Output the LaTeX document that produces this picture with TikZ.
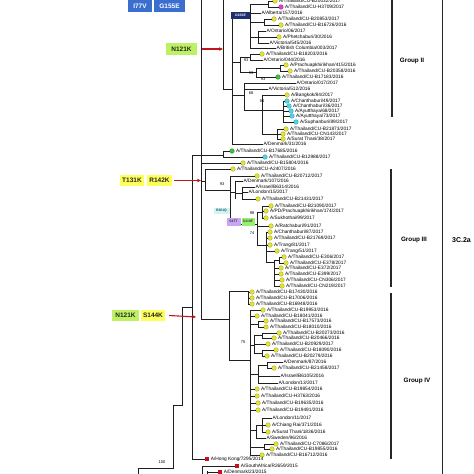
\documentclass[tikz,border=0pt]{standalone}
\usepackage{fontspec}
\setmainfont{Liberation Sans}
\usetikzlibrary{arrows.meta}
\definecolor{yfill}{HTML}{E4E436}
\definecolor{ydraw}{HTML}{9A9A22}
\definecolor{cfill}{HTML}{4ED6E6}
\definecolor{cdraw}{HTML}{2A96A8}
\definecolor{gfill}{HTML}{3CC43C}
\definecolor{gdraw}{HTML}{1E7A1E}
\definecolor{mfill}{HTML}{E040C8}
\definecolor{mdraw}{HTML}{9A2088}
\definecolor{rfill}{HTML}{C8101E}
\definecolor{arrred}{HTML}{C0141E}
\definecolor{mutblue}{HTML}{3A6FD0}
\definecolor{mutgreen}{HTML}{BDF062}
\definecolor{mutyel}{HTML}{FFFF5C}
\definecolor{navybox}{HTML}{1C2F6E}
\definecolor{lavbox}{HTML}{C8A6F2}
\definecolor{lgreenbox}{HTML}{98F070}
\definecolor{lcyanbox}{HTML}{D2F4F4}
\tikzset{
 tl/.style={line width=0.7pt, draw=black!88},
 lbl/.style={anchor=west, inner sep=0.3pt, font=\fontsize{4.8}{5}\selectfont},
 bsv/.style={inner sep=0pt, font=\fontsize{4}{4}\selectfont},
 mk/.style={circle, inner sep=0pt, minimum size=4.6pt, line width=0.3pt},
 ymk/.style={mk, fill=yfill, draw=ydraw},
 cmk/.style={mk, fill=cfill, draw=cdraw},
 gmk/.style={mk, fill=gfill, draw=gdraw},
 mmk/.style={mk, fill=mfill, draw=mdraw},
 rmk/.style={rectangle, inner sep=0pt, minimum size=4pt, fill=rfill},
 grp/.style={font=\bfseries\fontsize{6.3}{7}\selectfont},
 brk/.style={line width=1.1pt, draw=black!85},
 mut/.style={inner sep=0pt, font=\bfseries\fontsize{6.5}{7}\selectfont},
 smut/.style={inner sep=0pt, font=\bfseries\fontsize{3.4}{4}\selectfont},
 arr/.style={-{Stealth[length=4pt,width=3.6pt]}, line width=1.1pt, draw=arrred},
}
\newcommand\mleaf[5]{\node[#4] (#1) at (#2,#3) {}; \node[lbl] (#1t) at ([xshift=1.2pt]#1.east) {#5};}
\newcommand\pleaf[4]{\node[lbl] (#1) at (#2,#3) {#4};}
\newcommand\tbl[2]{\draw[tl] (#1 |- #2.west) -- (#2.west);}
\newcommand\tbn[2]{\draw[tl] (#1 |- #2) -- (#2);}
\newcommand\tvn[5]{\coordinate (#1) at (#2,#3); \coordinate (#1-t) at (#2,#4); \coordinate (#1-b) at (#2,#5); \draw[tl] (#1-t) -- (#1-b);}
\begin{document}
\begin{tikzpicture}[x=1pt,y=-1pt]
\clip (0,0) rectangle (474,474);
\fill[white] (0,0) rectangle (474,474);

% ---------------- Group II leaves
\mleaf{L1}{275}{1}{ymk}{A/Thailand/CU-B20032/2017}
\mleaf{L2}{281}{7}{mmk}{A/Thailand/CU-H3709/2017}
\pleaf{L3}{261}{13}{A/Alberta/157/2016}
\mleaf{L4}{274}{19}{ymk}{A/Thailand/CU-B20853/2017}
\mleaf{L5}{281}{25}{ymk}{A/Thailand/CU-B16726/2016}
\pleaf{L6}{266}{31}{A/Ontario/06/2017}
\mleaf{L7}{279}{37}{ymk}{A/Phetchaburi/30/2016}
\pleaf{L8}{269}{43}{A/Victoria/545/2016}
\pleaf{L9}{276}{48}{A/British Columbia/003/2017}
\mleaf{L10}{262}{54}{ymk}{A/Thailand/CU-B18203/2016}
\pleaf{L11}{263}{60}{A/Ontario/044/2016}
\mleaf{L12}{286}{65}{ymk}{A/Prachuapkhirikhan/415/2016}
\mleaf{L13}{290}{71}{ymk}{A/Thailand/CU-B20358/2016}
\mleaf{L14}{278}{77}{gmk}{A/Thailand/CU-B17183/2016}
\pleaf{L15}{296}{83}{A/Ontario/017/2017}
\pleaf{L16}{268}{89}{A/Victoria/512/2016}
\mleaf{L17}{287}{95}{ymk}{A/Bangkok/84/2017}
\mleaf{L18}{287}{101}{cmk}{A/Chanthaburi/49/2017}
\mleaf{L19}{289}{106}{cmk}{A/Chanthaburi/36/2017}
\mleaf{L20}{291}{111}{cmk}{A/Ayutthaya/68/2017}
\mleaf{L21}{292}{116}{cmk}{A/Ayutthaya/73/2017}
\mleaf{L22}{296}{122}{cmk}{A/Suphanburi/89/2017}
\mleaf{L23}{286}{129}{ymk}{A/Thailand/CU-B21873/2017}
\mleaf{L24}{283}{134}{ymk}{A/Thailand/CU-CN143/2017}
\mleaf{L25}{283}{139}{ymk}{A/Surat Thani/38/2017}
\pleaf{L26}{263}{144}{A/Denmark/31/2016}
\mleaf{L27}{232}{151}{gmk}{A/Thailand/CU-B17685/2016}
\mleaf{L28}{265}{157}{cmk}{A/Thailand/CU-B12988/2017}
\mleaf{L29}{243}{163}{ymk}{A/Thailand/CU-B15804/2016}

% ---------------- Group III leaves
\mleaf{L30}{233}{169}{ymk}{A/Thailand/CU-A2407/2016}
\mleaf{L31}{257}{176}{ymk}{A/Thailand/CU-B20712/2017}
\pleaf{L32}{243}{181}{A/Denmark/107/2016}
\pleaf{L33}{255}{187}{A/Israel/B6314/2016}
\pleaf{L34}{248}{192}{A/London/15/2017}
\mleaf{L35}{258}{199}{ymk}{A/Thailand/CU-B21431/2017}
\mleaf{L36}{271}{206}{ymk}{A/Thailand/CU-B21090/2017}
\mleaf{L37}{266}{211}{ymk}{A/PD/Prachuapkhirikhan/174/2017}
\mleaf{L38}{266}{218}{ymk}{A/Sukhothai/99/2017}
\mleaf{L39}{271}{226}{ymk}{A/Ratchaburi/91/2017}
\mleaf{L40}{270}{232}{ymk}{A/Chanthaburi/87/2017}
\mleaf{L41}{270}{238}{ymk}{A/Thailand/CU-B21769/2017}
\mleaf{L42}{270}{245}{ymk}{A/Trang/81/2017}
\mleaf{L43}{277}{251}{ymk}{A/Trang/51/2017}
\mleaf{L44}{284}{257}{ymk}{A/Thailand/CU-E306/2017}
\mleaf{L45}{286}{263}{ymk}{A/Thailand/CU-E378/2017}
\mleaf{L46}{281}{268}{ymk}{A/Thailand/CU-E372/2017}
\mleaf{L47}{281}{274}{ymk}{A/Thailand/CU-E399/2017}
\mleaf{L48}{282}{280}{ymk}{A/Thailand/CU-CN306/2017}
\mleaf{L49}{282}{286}{ymk}{A/Thailand/CU-CN219/2017}

% ---------------- Group IV leaves
\mleaf{L50}{252}{292}{ymk}{A/Thailand/CU-B17430/2016}
\mleaf{L51}{252}{298}{ymk}{A/Thailand/CU-B17006/2016}
\mleaf{L52}{252}{304}{ymk}{A/Thailand/CU-B16948/2016}
\mleaf{L53}{263}{310}{ymk}{A/Thailand/CU-B19953/2016}
\mleaf{L54}{257}{316}{ymk}{A/Thailand/CU-B18041/2016}
\mleaf{L55}{266}{321}{ymk}{A/Thailand/CU-B17573/2016}
\mleaf{L56}{266}{327}{ymk}{A/Thailand/CU-B18010/2016}
\mleaf{L57}{279}{333}{ymk}{A/Thailand/CU-B20273/2016}
\mleaf{L58}{274}{338}{ymk}{A/Thailand/CU-B20466/2016}
\mleaf{L59}{268}{344}{ymk}{A/Thailand/CU-B20929/2017}
\mleaf{L60}{276}{350}{ymk}{A/Thailand/CU-B18090/2016}
\mleaf{L61}{267}{356}{ymk}{A/Thailand/CU-B20279/2016}
\pleaf{L62}{283}{362}{A/Denmark/87/2016}
\mleaf{L63}{274}{368}{ymk}{A/Thailand/CU-B21458/2017}
\pleaf{L64}{280}{376}{A/Israel/B6105/2016}
\pleaf{L65}{278}{383}{A/London/13/2017}
\mleaf{L66}{257}{389}{ymk}{A/Thailand/CU-B19854/2016}
\mleaf{L67}{257}{396}{ymk}{A/Thailand/CU-H3763/2016}
\mleaf{L68}{258}{403}{ymk}{A/Thailand/CU-B19635/2016}
\mleaf{L69}{258}{410}{ymk}{A/Thailand/CU-B19491/2016}
\pleaf{L70}{272}{418}{A/London/11/2017}
\mleaf{L71}{268}{425}{ymk}{A/Chiang Rai/371/2016}
\mleaf{L72}{268}{432}{ymk}{A/Surat Thani/1836/2016}
\pleaf{L73}{266}{438}{A/Sweden/96/2016}
\mleaf{L74}{276}{444}{ymk}{A/Thailand/CU-C7086/2017}
\mleaf{L75}{272}{449}{ymk}{A/Thailand/CU-B19855/2016}
\mleaf{L76}{262}{455}{ymk}{A/Thailand/CU-B16712/2016}

% ---------------- outgroup leaves
\mleaf{L77}{207}{459}{rmk}{A/Hong Kong/7295/2014}
\mleaf{L78}{237}{466}{rmk}{A/SouthAfrica/R2659/2015}
\mleaf{L79}{220}{472}{rmk}{A/Denmark/23/2015}

% ---------------- Group II tree
\tvn{g2}{223}{89}{0}{89}
\tvn{g2m}{232}{89}{16}{144}
\tbn{g2}{g2m}
\tvn{g2a}{250}{16}{4}{48} \tbn{g2m}{g2a}
\tvn{n1}{268}{4}{1}{7} \tbn{g2a}{n1} \tbl{n1}{L1} \tbl{n1}{L2}
\tbl{g2a}{L3}
\tvn{n2}{264}{22}{19}{25} \tbn{g2a}{n2} \tbl{n2}{L4} \tbl{n2}{L5}
\tvn{n3}{258}{37}{31}{43} \tbn{g2a}{n3} \tbl{n3}{L6} \tbl{n3}{L7} \tbl{n3}{L8}
\tbl{g2a}{L9}
\tvn{g2b}{240}{62}{57}{72} \tbn{g2m}{g2b}
\tvn{nb1}{250}{57}{54}{60} \tbn{g2b}{nb1} \tbl{nb1}{L10} \tbl{nb1}{L11}
\tvn{nb2}{256}{72}{68}{77} \tbn{g2b}{nb2}
\tvn{nb3}{280}{68}{65}{71} \tbn{nb2}{nb3} \tbl{nb3}{L12} \tbl{nb3}{L13}
\tbl{nb2}{L14}
\tvn{g2c}{244}{95}{83}{110} \tbn{g2m}{g2c}
\tbl{g2c}{L15} \tbl{g2c}{L16}
\tvn{nc1}{262}{110}{95}{134} \tbn{g2c}{nc1} \tbl{nc1}{L17}
\tvn{nc2}{283}{110}{101}{122} \tbn{nc1}{nc2}
\tbl{nc2}{L18} \tbl{nc2}{L19} \tbl{nc2}{L20} \tbl{nc2}{L21} \tbl{nc2}{L22}
\tvn{nc3}{277}{134}{129}{139} \tbn{nc1}{nc3}
\tbl{nc3}{L23} \tbl{nc3}{L24} \tbl{nc3}{L25}
\tbl{g2m}{L26}

% ---------------- backbones
\tvn{b200}{201}{0}{0}{319}
\tbl{b200}{L29}
\tvn{b191}{192}{155}{155}{459}
\tvn{n27}{223}{155}{151}{157} \tbn{b191}{n27} \tbl{n27}{L27} \tbl{n27}{L28}
\tbl{b191}{L77}
\coordinate (r182t) at (182,307);
\coordinate (r182b) at (182,405);
\coordinate (r173t) at (173,405);
\coordinate (r173b) at (173,468);
\coordinate (r138) at (138,468);
\coordinate (r138b) at (138,476);
\draw[tl] (b191 |- r182t) -- (r182t) -- (r182b) -- (r173t) -- (r173b) -- (r138) -- (r138b);
\tvn{og1}{202}{466}{466}{476} \tbl{og1}{L78}
\tvn{og2}{207}{474}{471}{476} \tbn{og1}{og2} \tbl{og2}{L79}

% ---------------- Group III tree
\tvn{g3}{205}{181}{169}{190} \tbn{b200}{g3} \tbl{g3}{L30}
\tvn{g3m}{230}{190}{176}{224} \tbn{g3}{g3m}
\tbl{g3m}{L31}
\tvn{g3b}{235}{192}{181}{199} \tbn{g3m}{g3b} \tbl{g3b}{L32}
\tvn{g3c}{242}{193}{187}{199} \tbn{g3b}{g3c} \tbl{g3c}{L33} \tbl{g3c}{L34} \tbl{g3c}{L35}
\tvn{g3d}{257}{224}{212}{245} \tbn{g3m}{g3d}
\tvn{g3e}{262}{212}{206}{218} \tbn{g3d}{g3e} \tbl{g3e}{L36} \tbl{g3e}{L37} \tbl{g3e}{L38}
\tbl{g3d}{L39}
\tvn{g3f}{266}{245}{232}{262} \tbn{g3d}{g3f}
\tbl{g3f}{L40} \tbl{g3f}{L41} \tbl{g3f}{L42} \tbl{g3f}{L43}
\tvn{g3g}{274}{262}{260}{286} \tbn{g3f}{g3g}
\tvn{g3h}{279}{260}{257}{263} \tbn{g3g}{g3h} \tbl{g3h}{L44} \tbl{g3h}{L45}
\tbl{g3g}{L46} \tbl{g3g}{L47} \tbl{g3g}{L48} \tbl{g3g}{L49}

% ---------------- Group IV tree
\tvn{g4}{229}{319}{291}{360} \tbn{b200}{g4}
\tvn{g4a}{248}{291}{291}{304} \tbn{g4}{g4a} \tbl{g4a}{L50} \tbl{g4a}{L51} \tbl{g4a}{L52}
\tvn{g4b}{250}{360}{310}{455} \tbn{g4}{g4b}
\tbl{g4b}{L53} \tbl{g4b}{L54}
\tvn{g4c}{258}{324}{321}{327} \tbn{g4b}{g4c} \tbl{g4c}{L55} \tbl{g4c}{L56}
\tvn{g4d}{254}{345}{335}{353} \tbn{g4b}{g4d}
\tvn{g4e}{262}{335}{333}{338} \tbn{g4d}{g4e} \tbl{g4e}{L57} \tbl{g4e}{L58}
\tbl{g4d}{L59}
\tvn{g4f}{262}{353}{350}{356} \tbn{g4d}{g4f} \tbl{g4f}{L60} \tbl{g4f}{L61}
\tvn{g4g}{258}{374}{365}{383} \tbn{g4b}{g4g}
\tvn{g4h}{267}{365}{362}{368} \tbn{g4g}{g4h} \tbl{g4h}{L62} \tbl{g4h}{L63}
\tbl{g4g}{L64} \tbl{g4g}{L65}
\tbl{g4b}{L66} \tbl{g4b}{L67} \tbl{g4b}{L68} \tbl{g4b}{L69}
\tvn{g4i}{256}{430}{425}{438} \tbn{g4b}{g4i}
\tvn{g4j}{262}{425}{418}{432} \tbn{g4i}{g4j} \tbl{g4j}{L70} \tbl{g4j}{L71} \tbl{g4j}{L72}
\tbl{g4i}{L73}
\tvn{g4k}{264}{447}{444}{449} \tbn{g4b}{g4k} \tbl{g4k}{L74} \tbl{g4k}{L75}
\tbl{g4b}{L76}

% ---------------- bootstrap values
\node[bsv] (bs1) at (246,60) {93};
\node[bsv] (bs2) at (251,73) {99};
\node[bsv] (bs3) at (263,79) {93};
\node[bsv] (bs4) at (251,93) {68};
\node[bsv] (bs5) at (262,101) {84};
\node[bsv] (bs6) at (222,184) {93};
\node[bsv] (bs7) at (252,213) {98};
\node[bsv] (bs8) at (252,233) {74};
\node[bsv] (bs9) at (243,342) {75};
\node[bsv] (bs10) at (162,462) {100};

% ---------------- mutation labels
\node[mut, fill=mutblue, text=white, minimum width=24pt, minimum height=12pt] (mI77) at (140,6) {I77V};
\node[mut, fill=mutblue, text=white, minimum width=31pt, minimum height=12pt] (mG155) at (169.5,6) {G155E};
\node[smut, fill=navybox, text=white, minimum width=19pt, minimum height=7pt] (mG150) at (240.5,15.5) {G150E};
\node[mut, fill=mutgreen, text=black!85, minimum width=31pt, minimum height=12pt] (mN1) at (181.5,49) {N121K};
\draw[arr] ([xshift=5pt]mN1.east) -- (g2 |- mN1);
\node[mut, fill=mutyel, text=black!85, minimum width=24pt, minimum height=11pt] (mT131) at (132,180.5) {T131K};
\node[mut, fill=mutyel, text=black!85, minimum width=25pt, minimum height=11pt] (mR142) at (159.5,180.5) {R142K};
\draw[arr] ([xshift=2pt]mR142.east) -- (b200 |- mR142);
\node[smut, fill=lcyanbox, text=cdraw!60!black, minimum width=16pt, minimum height=6pt] (mR261) at (221.5,211) {R261Q};
\node[smut, fill=lavbox, text=black!80, minimum width=14pt, minimum height=8pt] (mS47) at (233.5,221.5) {S47T};
\node[smut, fill=lgreenbox, text=black!80, minimum width=13pt, minimum height=8pt] (mS219) at (248,221.5) {S219F};
\node[mut, fill=mutgreen, text=black!85, minimum width=27pt, minimum height=11pt] (mN2) at (125.5,315.5) {N121K};
\node[mut, fill=mutyel, text=black!85, minimum width=24pt, minimum height=11pt] (mS144) at (153,315.5) {S144K};
\coordinate (a3e) at (196,317);
\draw[arr] ([xshift=4pt]mS144.east) -- (a3e);

% ---------------- group brackets
\coordinate (k2t) at (392,0);   \coordinate (k2b) at (392,117);
\coordinate (k3t) at (391,169); \coordinate (k3b) at (391,287);
\coordinate (k4t) at (391,293); \coordinate (k4b) at (391,459);
\coordinate (kct) at (442,0);   \coordinate (kcb) at (442,474);
\draw[brk] (k2t) -- (k2b);
\draw[brk] (k3t) -- (k3b);
\draw[brk] (k4t) -- (k4b);
\draw[line width=0.9pt, draw=black!85] (kct) -- (kcb);
\node[grp] (gII) at (412,61) {Group II};
\node[grp] (gIII) at (414,240) {Group III};
\node[grp] (gIV) at (417,381) {Group IV};
\node[anchor=west, inner sep=0pt, font=\bfseries\fontsize{7}{8}\selectfont] (clade) at (452,240) {3C.2a};
\end{tikzpicture}
\end{document}
